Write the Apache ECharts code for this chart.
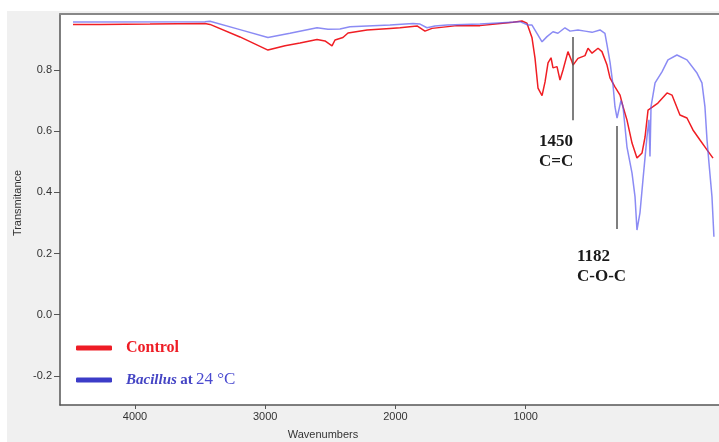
<!DOCTYPE html>
<html>
<head>
<meta charset="utf-8">
<script src="https://cdn.jsdelivr.net/npm/echarts@6/dist/echarts.min.js"></script>
<style>html,body{margin:0;padding:0;background:#fff}#c{width:719px;height:442px}</style>
</head>
<body>
<div id="c"></div>
<script>
// Data (x in the axis units as drawn, y = transmittance)
const controlWn = [4476,4269,3885,3463,3424,3194,2979,2848,2733,2602,2541,2487,2464,2403,2364,2218,2042,1965,1834,1773,1719,1527,1351,1097,1028,990,951,928,905,874,851,828,805,790,759,736,713,675,644,636,598,544,521,490,444,414,375,352,314,275,252,222,183,145,106,83,60,22,-16,-86,-124,-185,-239,-285,-339,-393,-439];
const controlT  = [0.949,0.949,0.950,0.952,0.949,0.908,0.865,0.879,0.888,0.900,0.895,0.879,0.898,0.906,0.921,0.931,0.936,0.938,0.944,0.927,0.936,0.945,0.945,0.956,0.960,0.953,0.905,0.839,0.741,0.716,0.761,0.823,0.840,0.807,0.811,0.767,0.800,0.860,0.827,0.816,0.838,0.847,0.871,0.855,0.871,0.860,0.816,0.774,0.745,0.718,0.680,0.637,0.561,0.512,0.529,0.581,0.669,0.680,0.692,0.725,0.718,0.653,0.643,0.604,0.571,0.539,0.512];
const bacillusWn = [4476,3463,3424,3194,2979,2810,2602,2518,2426,2349,2042,1865,1811,1758,1696,1604,1351,1044,982,951,913,874,836,790,752,698,659,598,544,490,429,391,375,352,329,314,298,268,252,222,183,160,145,122,99,68,53,45,37,6,-47,-93,-162,-239,-316,-354,-377,-393,-408,-431,-446];
const bacillusT  = [0.957,0.958,0.959,0.932,0.906,0.920,0.938,0.933,0.934,0.941,0.947,0.952,0.950,0.938,0.944,0.947,0.950,0.958,0.947,0.947,0.920,0.892,0.909,0.925,0.920,0.938,0.927,0.931,0.927,0.923,0.931,0.920,0.882,0.826,0.751,0.680,0.643,0.700,0.680,0.549,0.463,0.386,0.277,0.333,0.441,0.582,0.637,0.517,0.680,0.758,0.794,0.833,0.849,0.833,0.790,0.758,0.680,0.571,0.496,0.386,0.255];
const xTicks = [4000,3000,2000,1000];
const yTicks = [-0.2,0.0,0.2,0.4,0.6,0.8];
const seriesNames = ['Control','Bacillus at 24 °C'];
const annoWn = [636, 298];
const annoTop = [0.908, 0.617];
const annoBottom = [0.636, 0.280];
const annoNum = ['1450','1182'];
const annoGroup = ['C=C','C-O-C'];

const zip = (a,b) => a.map((v,i)=>[v,b[i]]);
const chart = echarts.init(document.getElementById('c'), null, {renderer:'canvas'});
const serif = 'Liberation Serif, Times New Roman, serif';
const sans = 'Liberation Sans, Arial, sans-serif';
const X_MIN = -485, X_MAX = 4576;

chart.setOption({
  animation:false,
  backgroundColor:'#ffffff',
  graphic:[
    {type:'rect', left:7, top:11, z:-10, shape:{width:712, height:431}, style:{fill:'#f0f0f0'}},
    {type:'text', x:18, y:203, rotation:Math.PI/2, style:{text:'Transmitance', font:'11px '+sans, fill:'#333', align:'center', verticalAlign:'middle'}},
    {type:'text', x:323, y:435, style:{text:'Wavenumbers', font:'11px '+sans, fill:'#333', align:'center', verticalAlign:'middle'}},
    {type:'text', left:539, top:132, z:20, style:{text:annoNum[0]+'\n'+annoGroup[0], font:'bold 17px '+serif, fill:'#1a1a1a', lineHeight:20}},
    {type:'text', left:577, top:247, z:20, style:{text:annoNum[1]+'\n'+annoGroup[1], font:'bold 17px '+serif, fill:'#1a1a1a', lineHeight:20}}
  ],
  grid:{left:60, right:0, top:14, bottom:37, show:true, backgroundColor:'#ffffff', borderWidth:0},
  legend:{
    orient:'vertical', left:71, top:333, itemWidth:36, itemHeight:5, itemGap:12, icon:'roundRect',
    data:seriesNames,
    formatter:n => n==='Control' ? '{c|Control}' : '{i|Bacillus} {b|at} {n|24 °C}',
    textStyle:{lineHeight:20, rich:{
      c:{fontFamily:serif, fontWeight:'bold', fontSize:16, color:'#ee1c25', padding:[0,0,0,9]},
      i:{fontFamily:serif, fontWeight:'bold', fontStyle:'italic', fontSize:15, color:'#4444c4', padding:[0,0,0,9]},
      b:{fontFamily:serif, fontWeight:'bold', fontSize:15, color:'#4444c4'},
      n:{fontFamily:serif, fontSize:17, color:'#4a4ad0'}
    }}
  },
  xAxis:[{
    type:'value', inverse:true, min:X_MIN, max:X_MAX, position:'bottom',
    axisLine:{show:true, onZero:false, lineStyle:{color:'#555', width:1.5}},
    axisTick:{show:true, length:4, customValues:xTicks, lineStyle:{color:'#555'}},
    axisLabel:{customValues:xTicks, fontSize:11, fontFamily:sans, color:'#333', margin:6, formatter:v=>String(v)},
    splitLine:{show:false}
  },{
    type:'value', inverse:true, min:X_MIN, max:X_MAX, position:'top',
    axisLine:{show:true, onZero:false, lineStyle:{color:'#888', width:2}},
    axisTick:{show:false}, axisLabel:{show:false}, splitLine:{show:false}
  }],
  yAxis:{
    type:'value', min:-0.295, max:0.983,
    axisLine:{show:true, onZero:false, lineStyle:{color:'#555', width:1.5}},
    axisTick:{show:true, length:6, customValues:yTicks, lineStyle:{color:'#555'}},
    axisLabel:{customValues:yTicks, fontSize:11, fontFamily:sans, color:'#333', margin:8, formatter:v=>v.toFixed(1)},
    splitLine:{show:false}
  },
  series:[
    {name:seriesNames[0], type:'line', data:zip(controlWn, controlT), showSymbol:false, symbol:'none',
     itemStyle:{color:'#ee1c25'}, lineStyle:{color:'#f01e24', width:1.5},
     markLine:{silent:true, symbol:'none', label:{show:false}, lineStyle:{color:'#555', width:1.5, type:'solid'},
       data: annoWn.map((w,i)=>[{coord:[w, annoTop[i]]},{coord:[w, annoBottom[i]]}])}},
    {name:seriesNames[1], type:'line', data:zip(bacillusWn, bacillusT), showSymbol:false, symbol:'none',
     itemStyle:{color:'#3c3cc8'}, lineStyle:{color:'rgba(90,90,240,0.7)', width:1.5}}
  ]
});
</script>
</body>
</html>
